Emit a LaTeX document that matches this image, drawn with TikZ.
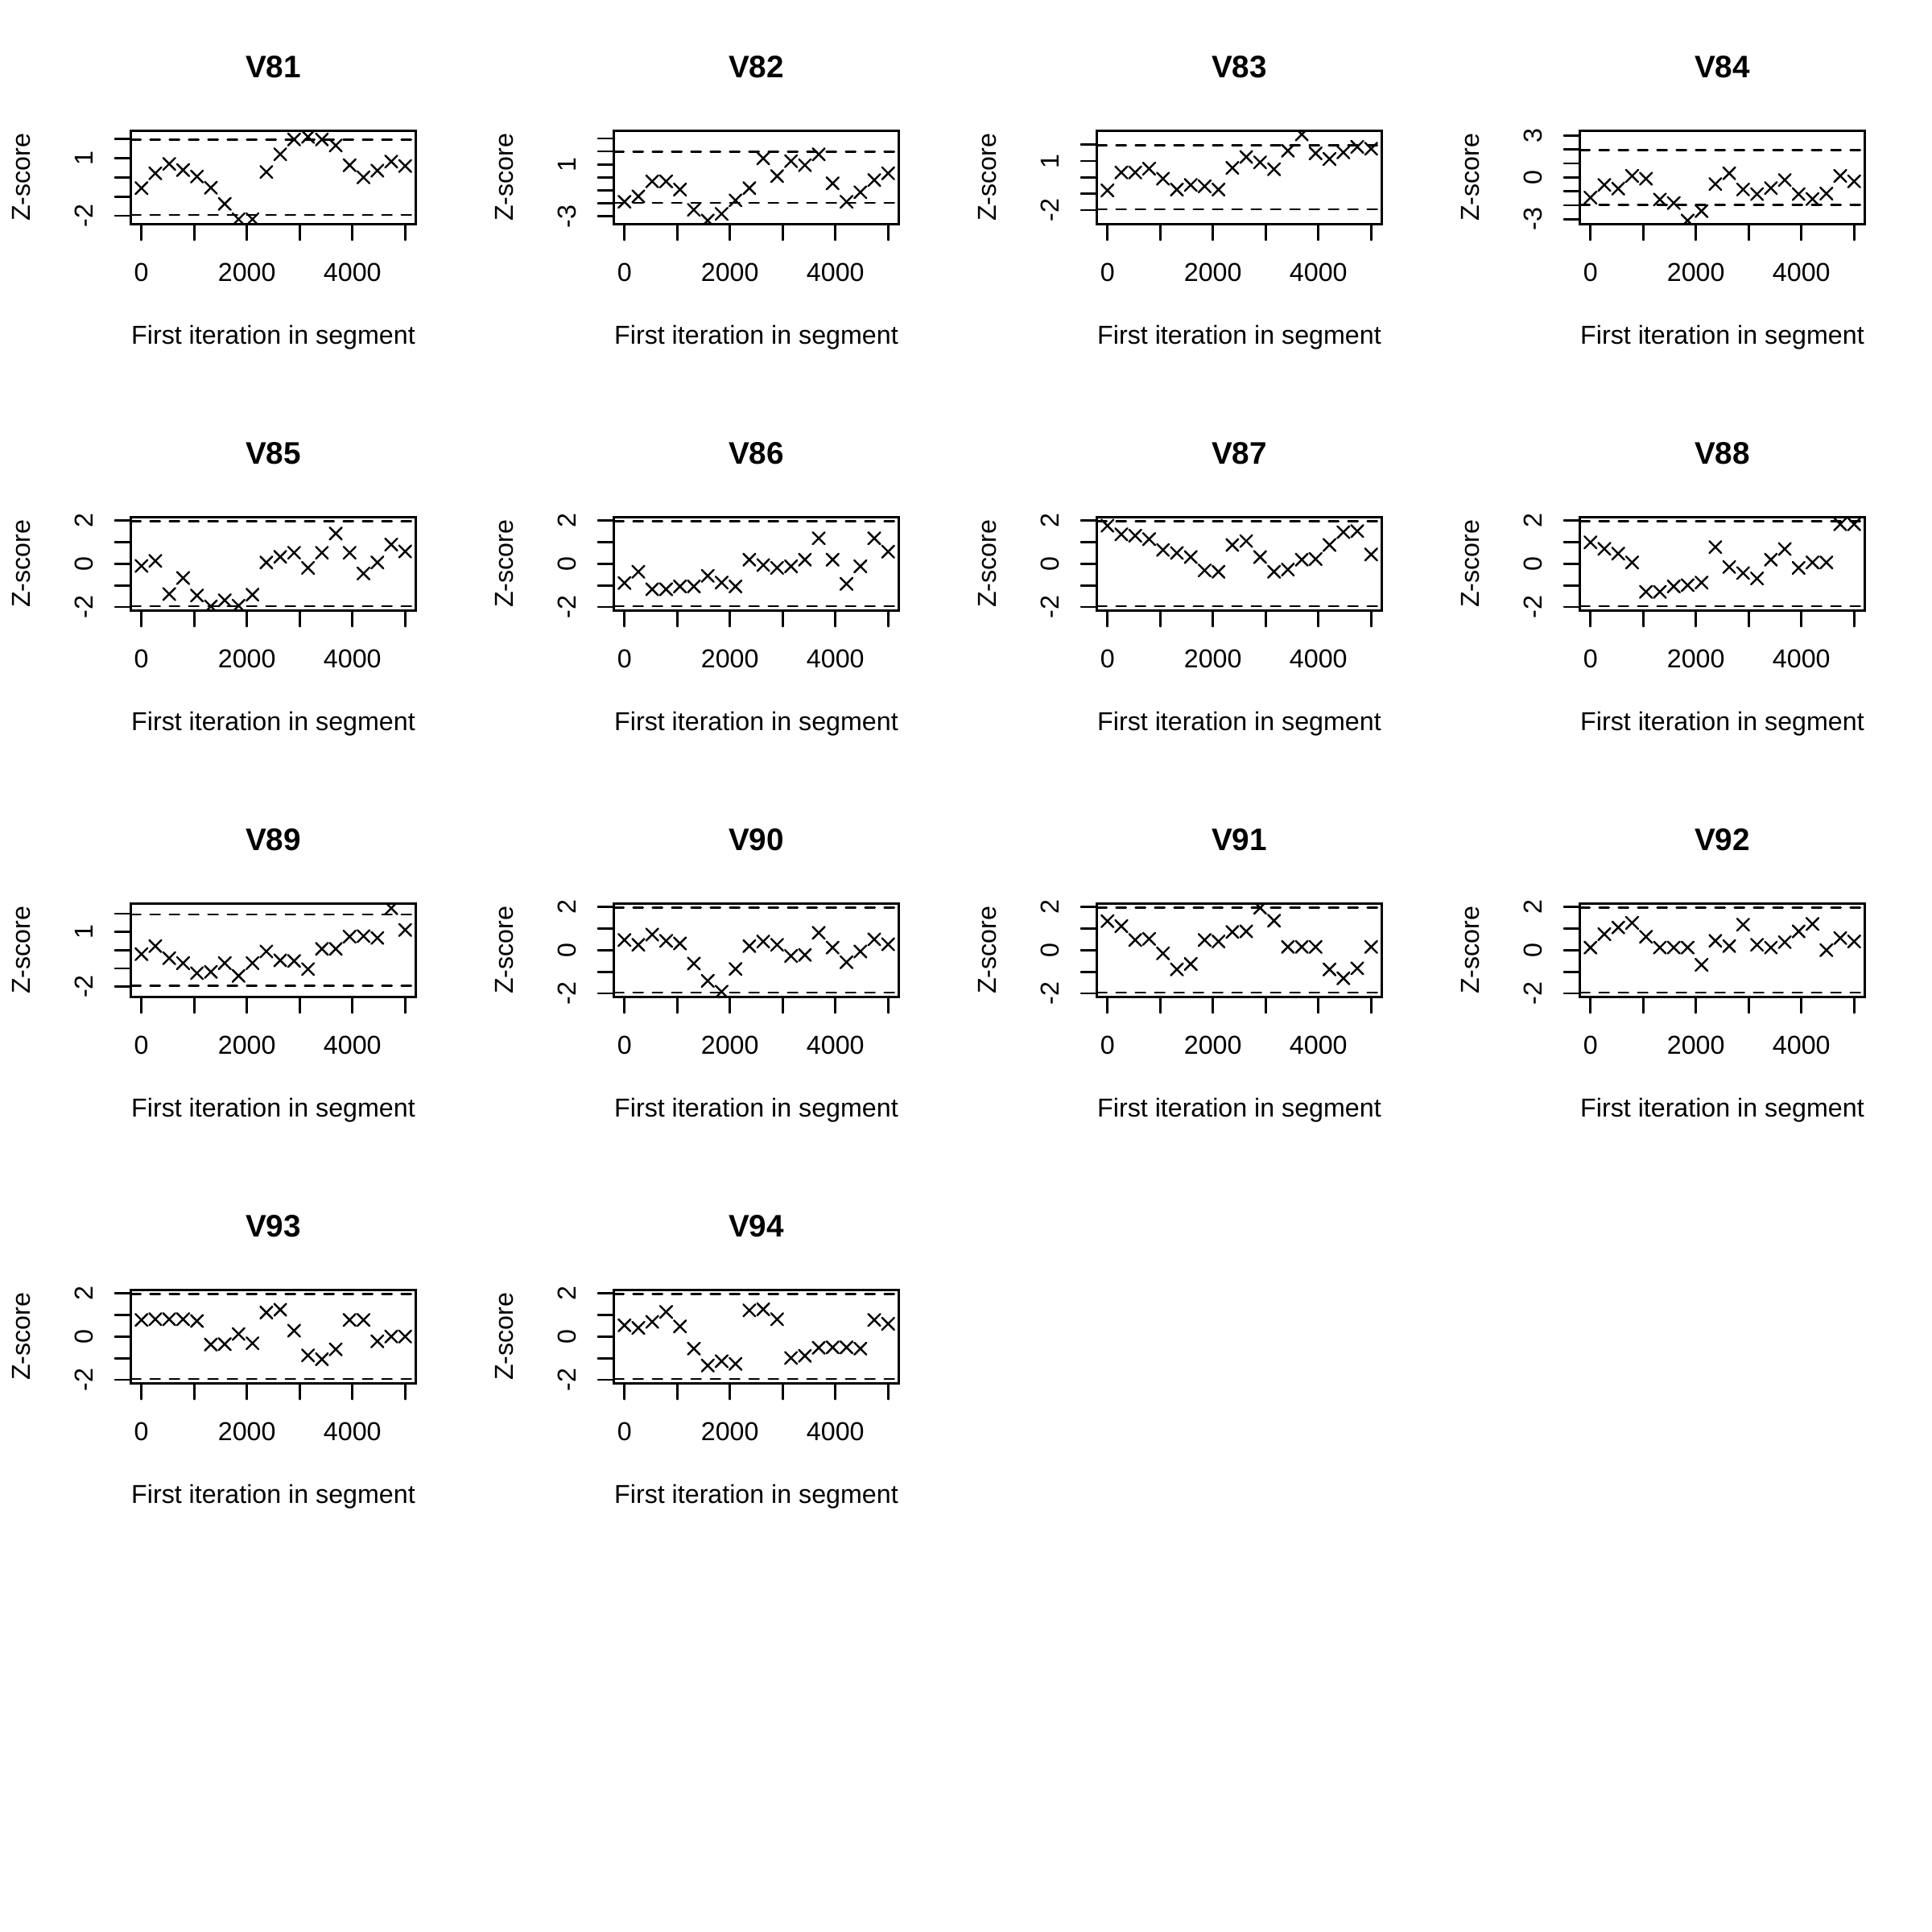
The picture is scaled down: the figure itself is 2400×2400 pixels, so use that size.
\documentclass[tikz,border=0pt]{standalone}
\usepackage{fontspec}
\setmainfont{Liberation Sans}
\tikzset{
  frame/.style={line width=0.8pt},
  dashln/.style={line width=0.8pt, dash pattern=on 3.6pt off 3.6pt, line cap=round},
  tickln/.style={line width=0.8pt, line cap=round},
  xmark/.style={line width=0.72pt, line cap=round},
  lab/.style={inner sep=0pt, anchor=base, font=\fontsize{9.66}{11}\selectfont},
  ttl/.style={inner sep=0pt, anchor=base, font=\fontsize{11.6}{13}\selectfont\bfseries},
}
% #1 col, #2 row, #3 name, #4 ylimit, #5 max tick, #6 y labels, #7 z values
\newcommand\gwpanel[7]{%
 \begin{scope}[shift={(600*#1,480*#2)}]
  \pgfmathsetmacro\gsc{58/(1.08*#4)}
  \node[ttl] (t#3) at (339.5,96.7) {V#3};
  \node[lab] (xl#3) at (339.5,427.7) {First iteration in segment};
  \node[lab,rotate=90] (yl#3) at (37.6,220.3) {Z-score};
  \foreach \k in {0,...,5} \draw[tickln] ({175.7+65.52*\k},278.3) -- ({175.7+65.52*\k},298.1);
  \foreach \k/\t in {0/0,2/2000,4/4000} \node[lab] (xt#3\k) at ({175.7+65.52*\k},349) {\t};
  \foreach \k in {-#5,...,#5} \draw[tickln] (162.7,{220.3-\gsc*(\k)}) -- (142.9,{220.3-\gsc*(\k)});
  \foreach \k [count=\j] in {#6} \node[lab,rotate=90] (yt#3\j) at (115,{220.3-\gsc*(\k)}) {\k};
  \begin{scope}
   \clip (162.7,162.3) rectangle (516.3,278.3);
   \draw[dashln] (162.7,{220.3-1.96*\gsc}) -- (516.3,{220.3-1.96*\gsc});
   \draw[dashln] (162.7,{220.3+1.96*\gsc}) -- (516.3,{220.3+1.96*\gsc});
   \foreach \z [count=\i from 0] in {#7} {
     \pgfmathsetmacro\gx{175.7+17.242*\i}
     \pgfmathsetmacro\gy{220.3-\gsc*(\z)}
     \draw[xmark] (\gx-7.5,\gy-7.5) -- (\gx+7.5,\gy+7.5) (\gx-7.5,\gy+7.5) -- (\gx+7.5,\gy-7.5);
   }
  \end{scope}
  \draw[frame] (162.7,162.3) rectangle (516.3,278.3);
 \end{scope}}
\begin{document}
\begin{tikzpicture}[x=0.3pt,y=-0.3pt]
\useasboundingbox[fill=white] (0,0) rectangle (2400,2400);
\gwpanel{0}{0}{81}{2.25}{2}{1,-2}{-0.56,0.21,0.70,0.38,0.04,-0.54,-1.38,-2.18,-2.18,0.28,1.20,1.97,2.11,1.97,1.66,0.63,0.0,0.35,0.82,0.59}
\gwpanel{1}{0}{82}{3.33}{3}{1,-3}{-1.88,-1.46,-0.31,-0.31,-0.94,-2.5,-3.33,-2.81,-1.77,-0.83,1.46,0.10,1.25,0.94,1.77,-0.46,-1.88,-1.15,-0.21,0.31}
\gwpanel{2}{0}{83}{2.65}{2}{1,-2}{-0.80,0.30,0.30,0.53,-0.08,-0.75,-0.47,-0.55,-0.75,0.58,1.25,0.92,0.50,1.63,2.63,1.47,1.13,1.53,1.87,1.75}
\gwpanel{3}{0}{84}{3.1}{3}{3,0,-3}{-1.45,-0.54,-0.81,0.10,-0.10,-1.59,-1.84,-3.1,-2.42,-0.48,0.29,-0.87,-1.20,-0.77,-0.19,-1.20,-1.55,-1.16,0.10,-0.29}
\gwpanel{0}{1}{85}{2}{2}{2,0,-2}{-0.10,0.13,-1.40,-0.66,-1.47,-1.97,-1.69,-1.94,-1.43,0.06,0.32,0.51,-0.19,0.51,1.40,0.51,-0.45,0.06,0.89,0.57}
\gwpanel{1}{1}{86}{2}{2}{2,0,-2}{-0.89,-0.37,-1.18,-1.18,-1.05,-1.05,-0.56,-0.87,-1.05,0.19,-0.06,-0.19,-0.12,0.19,1.18,0.19,-0.93,-0.12,1.18,0.56}
\gwpanel{2}{1}{87}{2}{2}{2,0,-2}{1.76,1.36,1.30,1.14,0.64,0.50,0.31,-0.31,-0.37,0.87,1.05,0.31,-0.37,-0.27,0.19,0.22,0.87,1.46,1.51,0.43}
\gwpanel{3}{1}{88}{2}{2}{2,0,-2}{0.99,0.69,0.47,0.06,-1.30,-1.30,-1.05,-0.99,-0.87,0.77,-0.15,-0.43,-0.68,0.19,0.68,-0.19,0.06,0.06,1.83,1.83}
\gwpanel{0}{2}{89}{2.37}{2}{1,-2}{-0.22,0.22,-0.44,-0.71,-1.26,-1.19,-0.71,-1.41,-0.71,-0.07,-0.56,-0.59,-1.04,0.07,0.07,0.74,0.77,0.67,2.30,1.11}
\gwpanel{1}{2}{90}{2}{2}{2,0,-2}{0.47,0.25,0.72,0.43,0.31,-0.62,-1.42,-1.92,-0.87,0.19,0.40,0.25,-0.27,-0.22,0.80,0.12,-0.56,-0.06,0.50,0.27}
\gwpanel{2}{2}{91}{2}{2}{2,0,-2}{1.34,1.11,0.47,0.52,-0.15,-0.89,-0.64,0.47,0.40,0.84,0.87,1.96,1.36,0.15,0.15,0.15,-0.89,-1.30,-0.84,0.15}
\gwpanel{3}{2}{92}{2}{2}{2,0,-2}{0.12,0.74,1.05,1.26,0.62,0.12,0.12,0.12,-0.68,0.43,0.19,1.18,0.25,0.12,0.37,0.87,1.21,0.0,0.56,0.40}
\gwpanel{0}{3}{93}{2}{2}{2,0,-2}{0.77,0.80,0.80,0.80,0.72,-0.37,-0.35,0.12,-0.31,1.11,1.24,0.27,-0.87,-1.05,-0.59,0.77,0.77,-0.22,0.0,0.0}
\gwpanel{1}{3}{94}{2}{2}{2,0,-2}{0.52,0.40,0.68,1.14,0.47,-0.56,-1.34,-1.14,-1.26,1.21,1.26,0.80,-0.99,-0.89,-0.52,-0.50,-0.50,-0.56,0.77,0.59}
\end{tikzpicture}
\end{document}
